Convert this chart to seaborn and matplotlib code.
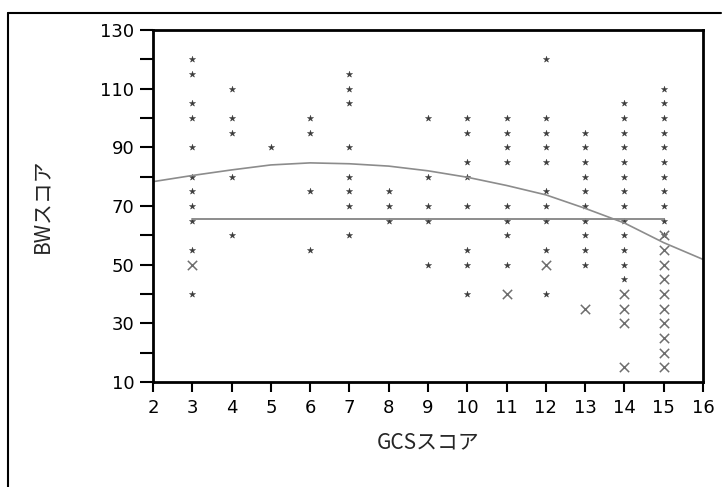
'''
GCS score vs BW score scatter with mean line and smooth fit.
'''

import pandas as pd
import matplotlib
matplotlib.use('Agg')
import matplotlib.pyplot as plt
import seaborn as sns
from matplotlib.lines import Line2D
from matplotlib.ticker import MultipleLocator

# Observations drawn as small asterisks (GCS score -> BW scores)
dot_gcs = [3, 4, 5, 6, 7, 8, 9, 10, 11, 12, 13, 14, 15]
dot_bw = [
    [120, 115, 105, 100, 90, 80, 75, 70, 65, 55, 40],
    [110, 100, 95, 80, 60],
    [90],
    [100, 95, 75, 55],
    [115, 110, 105, 90, 80, 75, 70, 60],
    [75, 70, 65],
    [100, 80, 70, 65, 50],
    [100, 95, 85, 80, 70, 55, 50, 40],
    [100, 95, 90, 85, 70, 65, 60, 50],
    [120, 100, 95, 90, 85, 75, 70, 65, 55, 40],
    [95, 90, 85, 80, 75, 70, 65, 60, 55, 50],
    [105, 100, 95, 90, 85, 80, 75, 70, 65, 60, 55, 50, 45],
    [110, 105, 100, 95, 90, 85, 80, 75, 70, 65, 60],
]

# Observations drawn as crosses
cross_gcs = [3, 11, 12, 13, 14, 15]
cross_bw = [
    [50],
    [40],
    [50],
    [35],
    [40, 35, 30, 15],
    [60, 55, 50, 45, 40, 35, 30, 25, 20, 15],
]

# Mean line and fitted curve
mean_gcs = [3, 15]
mean_bw = [65.4, 65.4]
fit_gcs = [2, 3, 4, 5, 6, 7, 8, 9, 10, 11, 12, 13, 14, 15, 16]
fit_bw = [78.3, 80.4, 82.3, 84.0, 84.7, 84.4, 83.6, 82.0, 79.8, 77.0, 73.8, 69.2, 64.2, 57.5, 51.8]

x_ticks = [2, 3, 4, 5, 6, 7, 8, 9, 10, 11, 12, 13, 14, 15, 16]
y_ticks = [10, 30, 50, 70, 90, 110, 130]


def to_frame(xs, ys):
    rows = [(x, y) for x, vals in zip(xs, ys) for y in vals]
    return pd.DataFrame(rows, columns=['gcs', 'bw'])


dots = to_frame(dot_gcs, dot_bw)
crosses = to_frame(cross_gcs, cross_bw)
fit = pd.DataFrame({'gcs': fit_gcs, 'bw': fit_bw})
mean = pd.DataFrame({'gcs': mean_gcs, 'bw': mean_bw})

sns.set_style('white')
plt.rcParams['font.family'] = ['Noto Sans CJK JP', 'DejaVu Sans']

fig = plt.figure(figsize=(7.23, 4.87), dpi=100)
ax = fig.add_axes([153 / 723, 1 - 382 / 487, 550 / 723, 352 / 487])

sns.lineplot(data=fit, x='gcs', y='bw', ax=ax, color='#8c8c8c', lw=1.2)
sns.lineplot(data=mean, x='gcs', y='bw', ax=ax, color='#8c8c8c', lw=1.4)
sns.scatterplot(data=dots, x='gcs', y='bw', ax=ax, marker='*', s=22,
                color='#3a3a3a', edgecolor='#3a3a3a', linewidth=0.3)
sns.scatterplot(data=crosses, x='gcs', y='bw', ax=ax, marker='x', s=45,
                color='#6e6e6e', linewidth=1.1)

ax.set_xlim(2, 16)
ax.set_ylim(10, 130)
ax.set_xticks(x_ticks)
ax.set_yticks(y_ticks)
ax.yaxis.set_minor_locator(MultipleLocator(20))
ax.set_xticklabels([str(t) for t in x_ticks], family='DejaVu Sans', fontsize=13)
ax.set_yticklabels([str(t) for t in y_ticks], family='DejaVu Sans', fontsize=13)
ax.tick_params(axis='y', which='both', direction='out', length=9.5, width=1.5,
               left=True, pad=4, colors='black')
ax.tick_params(axis='x', which='major', direction='out', length=7.5, width=1.5,
               bottom=True, pad=5, colors='black')

for side in ax.spines.values():
    side.set_visible(True)
    side.set_color('black')
    side.set_linewidth(2)

ax.set_xlabel('GCSスコア', fontsize=15, labelpad=10)
ax.set_ylabel('BWスコア', fontsize=15, labelpad=34)

# Outer frame (left and top edges)
fig.add_artist(Line2D([8 / 723, 8 / 723], [0, 1 - 13 / 487], color='black', lw=1.5))
fig.add_artist(Line2D([8 / 723, 0.997], [1 - 13 / 487, 1 - 13 / 487], color='black', lw=1.5))

fig.savefig('out.png', dpi=100)
